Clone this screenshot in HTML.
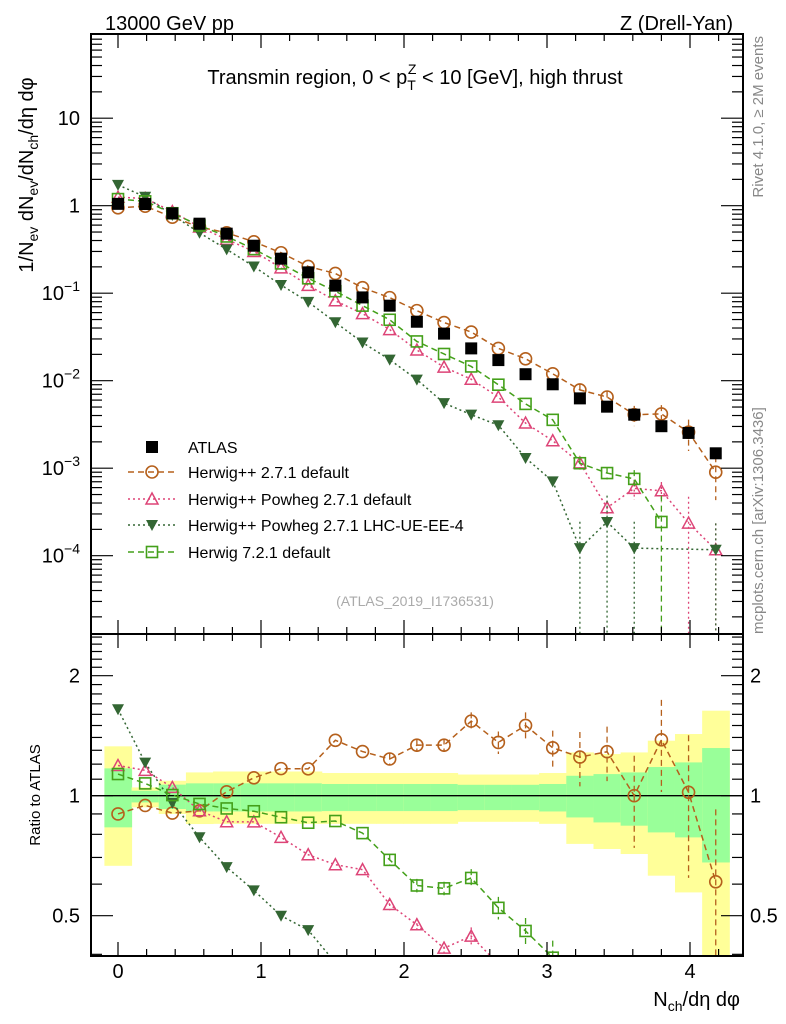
<!DOCTYPE html>
<html><head><meta charset="utf-8"><style>
html,body{margin:0;padding:0;background:#fff;overflow:hidden;width:786px;height:1024px;}
svg{font-family:"Liberation Sans",sans-serif;display:block;}
</style></head><body>
<svg id="c" width="786" height="1024" xmlns="http://www.w3.org/2000/svg">
<defs>
<clipPath id="cm"><rect x="91" y="34" width="652" height="600"/></clipPath>
<clipPath id="cr"><rect x="91" y="634" width="652" height="322"/></clipPath>
</defs>
<g id="bands" clip-path="url(#cr)"></g>
<g id="marks"></g>
<rect x="91" y="34" width="652" height="600" fill="none" stroke="#000" stroke-width="2"/>
<rect x="91" y="634" width="652" height="322" fill="none" stroke="#000" stroke-width="2"/>
<g id="ticks"></g>
<text x="105" y="30" font-size="20">13000 GeV pp</text>
<text x="733" y="30" font-size="20" text-anchor="end">Z (Drell-Yan)</text>
<text x="415" y="84" font-size="20" text-anchor="middle">Transmin region, 0 &lt; p<tspan font-size="14" dy="6">T</tspan><tspan font-size="14" dx="-8" dy="-16">Z</tspan><tspan dy="10"> &lt; 10 [GeV], high thrust</tspan></text>
<text transform="translate(33,175) rotate(-90)" font-size="20" text-anchor="middle">1/N<tspan font-size="14" dy="5">ev</tspan><tspan dy="-5"> dN</tspan><tspan font-size="14" dy="5">ev</tspan><tspan dy="-5">/dN</tspan><tspan font-size="14" dy="5">ch</tspan><tspan dy="-5">/dη dφ</tspan></text>
<text transform="translate(40,795) rotate(-90)" font-size="15" text-anchor="middle">Ratio to ATLAS</text>
<text x="740" y="1006" font-size="20" text-anchor="end">N<tspan font-size="14" dy="5">ch</tspan><tspan dy="-5">/dη dφ</tspan></text>
<text transform="translate(763,36) rotate(-90)" font-size="15" fill="#888" text-anchor="end">Rivet 4.1.0, ≥ 2M events</text>
<text transform="translate(763,634) rotate(-90)" font-size="15" fill="#888">mcplots.cern.ch [arXiv:1306.3436]</text>
<text x="415" y="606" font-size="14" fill="#aaa" text-anchor="middle">(ATLAS_2019_I1736531)</text>
<g id="legend"></g>
</svg>
<script>
const xs=[0,0.19,0.38,0.57,0.76,0.95,1.14,1.33,1.52,1.71,1.90,2.09,2.28,2.47,2.66,2.85,3.04,3.23,3.42,3.61,3.80,3.99,4.18];
const atlas=[1.05,1.045,0.817,0.623,0.479,0.349,0.248,0.173,0.122,0.0895,0.072,0.0472,0.0345,0.0234,0.0172,0.01186,0.0091,0.00628,0.00505,0.00409,0.00302,0.00253,0.00148];
const hpp=[0.945,0.988,0.739,0.571,0.49,0.387,0.29,0.202,0.168,0.1155,0.089,0.0632,0.0462,0.036,0.0234,0.0178,0.012,0.00785,0.00651,0.00409,0.00417,0.00258,0.0009];
const powheg=[1.25,1.21,0.857,0.571,0.412,0.300,0.195,0.123,0.0819,0.0584,0.0384,0.0224,0.0143,0.0104,0.0065,0.00328,0.00206,0.00115,0.000353,0.000588,0.000552,0.000236,0.000117];
const ueee4=[1.73,1.265,0.784,0.49,0.317,0.202,0.124,0.0796,0.0465,0.0273,0.0174,0.0103,0.00555,0.00409,0.0031,0.00131,0.000708,0.000122,0.000243,0.000122,null,null,0.000117];
const h7=[1.19,1.122,0.82,0.594,0.445,0.319,0.219,0.148,0.1054,0.0721,0.0497,0.0281,0.0202,0.01455,0.009,0.00543,0.00357,0.00114,0.00088,0.000755,0.000243,null,null];
const relErr=[0.01,0.01,0.01,0.01,0.01,0.01,0.015,0.015,0.02,0.02,0.025,0.03,0.03,0.04,0.05,0.06,0.08,0.12,0.12,0.2,0.2,0.3,0.4];
const bandYelUp=[1.33,1.049,1.09,1.144,1.15,1.15,1.15,1.15,1.14,1.14,1.14,1.14,1.14,1.13,1.13,1.13,1.14,1.284,1.272,1.284,1.374,1.428,1.634];
const bandYelDn=[0.667,0.935,0.9,0.849,0.85,0.85,0.85,0.85,0.85,0.85,0.85,0.85,0.85,0.86,0.86,0.86,0.85,0.757,0.735,0.714,0.63,0.572,0.3];
const bandGrnUp=[1.171,1.029,1.066,1.074,1.074,1.074,1.074,1.074,1.07,1.07,1.07,1.07,1.07,1.065,1.065,1.065,1.07,1.122,1.133,1.144,1.18,1.212,1.317];
const bandGrnDn=[0.833,0.962,0.926,0.913,0.913,0.913,0.913,0.913,0.915,0.915,0.915,0.915,0.915,0.92,0.92,0.92,0.913,0.882,0.857,0.841,0.809,0.786,0.68];
const xTicks=[0,1,2,3,4];
const yTickExp=[1,0,-1,-2,-3,-4];
const rTicks=[0.5,1,2];

const NS='http://www.w3.org/2000/svg';
const X=v=>118+143*v;
const YM=v=>205.7-87.5*Math.log10(v);
const YR=r=>795.7-120*Math.log2(r);
const BW=0.095;
const RB=958, MB=636;
function mk(tag,at,parent){const e=document.createElementNS(NS,tag);for(const k in at)e.setAttribute(k,at[k]);parent.appendChild(e);return e;}
const marks=document.getElementById('marks'),bands=document.getElementById('bands'),ticks=document.getElementById('ticks'),legend=document.getElementById('legend');

xs.forEach((x,i)=>{
 let r=mk('rect',{x:X(x-BW),y:YR(bandYelUp[i]),width:X(x+BW)-X(x-BW)+0.5,height:Math.min(YR(bandYelDn[i]),RB)-YR(bandYelUp[i]),fill:'#ffff99'},bands);
 
 
 let g=mk('rect',{x:X(x-BW),y:YR(bandGrnUp[i]),width:X(x+BW)-X(x-BW)+0.5,height:YR(bandGrnDn[i])-YR(bandGrnUp[i]),fill:'#99ff99'},bands);
 
 
});
mk('line',{x1:91,x2:743,y1:YR(1),y2:YR(1),stroke:'#000','stroke-width':1.3},marks);

const series=[
 {name:'herwigpp-271',vals:hpp,col:'#b5601c',dash:'6,4',m:'circle',lab:'Herwig++ 2.7.1 default'},
 {name:'powheg-271',vals:powheg,col:'#dd4477',dash:'2,3',m:'tri',lab:'Herwig++ Powheg 2.7.1 default'},
 {name:'powheg-ueee4',vals:ueee4,col:'#336633',dash:'2,3',m:'dtri',lab:'Herwig++ Powheg 2.7.1 LHC-UE-EE-4'},
 {name:'herwig-721',vals:h7,col:'#44a01a',dash:'6,4',m:'square',lab:'Herwig 7.2.1 default'}
];
function marker(type,cx,cy,col,parent,name){
 let e;
 if(type==='circle')e=mk('circle',{cx,cy,r:6,fill:'none',stroke:col,'stroke-width':1.6},parent);
 else if(type==='square')e=mk('rect',{x:cx-5.5,y:cy-5.5,width:11,height:11,fill:'none',stroke:col,'stroke-width':1.6},parent);
 else if(type==='tri')e=mk('polygon',{points:`${cx},${cy-6} ${cx-6},${cy+5} ${cx+6},${cy+5}`,fill:'none',stroke:col,'stroke-width':1.5},parent);
 else if(type==='dtri')e=mk('polygon',{points:`${cx-6},${cy-5} ${cx+6},${cy-5} ${cx},${cy+6}`,fill:col},parent);
 else e=mk('rect',{x:cx-6,y:cy-6,width:12,height:12,fill:'#000'},parent);
 
 
 return e;
}
// clip polyline segments to a bottom limit
function cutPath(pts,bottom){
 let d='',pen=false;
 for(let k=0;k<pts.length;k++){
  const [x,y]=pts[k];
  if(k==0){if(y<=bottom){d+=`M${x},${y}`;pen=true;}continue;}
  const [px,py]=pts[k-1];
  if(py<=bottom&&y<=bottom){d+=(pen?'L':'M')+`${x},${y}`;pen=true;}
  else if(py<=bottom&&y>bottom){const t=(bottom-py)/(y-py);d+=(pen?'L':'M')+`${px+t*(x-px)},${bottom}`;pen=false;}
  else if(py>bottom&&y<=bottom){const t=(bottom-py)/(y-py);d+=`M${px+t*(x-px)},${bottom}L${x},${y}`;pen=true;}
 }
 return d||'M0,0';
}
const gm=mk('g',{'clip-path':'url(#cm)'},marks), gr=mk('g',{'clip-path':'url(#cr)'},marks);
series.forEach(s=>{
 let pm=[],pr=[];
 s.vals.forEach((v,i)=>{if(v==null)return;pm.push([X(xs[i]),YM(v)]);pr.push([X(xs[i]),YR(v/atlas[i])]);});
 let l1=mk('path',{d:cutPath(pm,MB),fill:'none',stroke:s.col,'stroke-width':1.5,'stroke-dasharray':s.dash},gm);
 
 
 let l2=mk('path',{d:cutPath(pr,RB),fill:'none',stroke:s.col,'stroke-width':1.5,'stroke-dasharray':s.dash},gr);
 
 
 s.vals.forEach((v,i)=>{
  if(v==null)return;
  const e=relErr[i]*1.3;
  const cx=X(xs[i]);
  const toZero=v<3e-4;
  const top=toZero?YM(v*2):YM(v*(1+e));
  const mainBot=toZero?MB:Math.min(MB,YM(v*Math.max(1-e,0.01)));
  const rr=v/atlas[i];
  const ry=YR(rr);
  if(ry<RB+8){
   [[gm,top,mainBot],[gr,YR(rr*(1+e)),Math.min(RB,YR(rr*Math.max(1-e,0.01)))]].forEach(([g,a,b])=>{
    if(Math.abs(b-a)>10){let eb=mk('line',{x1:cx,x2:cx,y1:a,y2:b,stroke:s.col,'stroke-width':1.3,'stroke-dasharray':s.dash},g);
    
    }
   });
   marker(s.m,cx,ry,s.col,gr,s.name+'-ratio-point');
  } else if(Math.abs(mainBot-top)>10){
   let eb=mk('line',{x1:cx,x2:cx,y1:top,y2:mainBot,stroke:s.col,'stroke-width':1.3,'stroke-dasharray':s.dash},gm);
   
   
  }
  marker(s.m,cx,YM(v),s.col,gm,s.name+'-point');
 });
});
atlas.forEach((v,i)=>marker('fsq',X(xs[i]),YM(v),'#000',gm,'atlas-point'));

function tl(x1,y1,x2,y2){mk('line',{x1,y1,x2,y2,stroke:'#000','stroke-width':1.2},ticks);}
for(let k=-0.8;k<=4.4;k+=0.2){const v=Math.round(k*10)/10;const x=X(v);if(x<92||x>742)continue;
 const maj=Math.abs(v-Math.round(v))<1e-6;const L=maj?14:7;
 tl(x,34,x,34+L);tl(x,634,x,634-L);tl(x,634,x,634+L);tl(x,956,x,956-L);}
xTicks.forEach(v=>{let t=mk('text',{x:X(v),y:978,'font-size':20,'text-anchor':'middle'},ticks);t.textContent=v;
 
 });
for(let e=-5;e<=1;e++)for(let m=1;m<10;m++){const y=YM(m*Math.pow(10,e));if(y<35||y>633)continue;const L=m==1?22:11;tl(91,y,91+L,y);tl(743,y,743-L,y);}
yTickExp.forEach(e=>{let t=mk('text',{x:80,y:YM(Math.pow(10,e))+7,'font-size':20,'text-anchor':'end'},ticks);
 if(e==1)t.textContent='10';else if(e==0)t.textContent='1';else{t.textContent='10';let s=mk('tspan',{'font-size':14,dy:-9},t);s.textContent='−'+(-e);}
 
 });
[0.4,0.5,0.6,0.7,0.8,0.9,1,1.1,1.2,1.3,1.4,1.5,1.6,1.7,1.8,1.9,2,2.1,2.2,2.3,2.4,2.5].forEach(r=>{const y=YR(r);if(y<635||y>955)return;const L=(r==0.5||r==1||r==2)?22:11;tl(91,y,91+L,y);tl(743,y,743-L,y);});
rTicks.forEach(r=>{[80,750].forEach((x,j)=>{let t=mk('text',{x,y:YR(r)+7,'font-size':20,'text-anchor':j?'start':'end'},ticks);t.textContent=r;
 
 });});

const ly=[447,472,499,525,552];
marker('fsq',152,ly[0],'#000',legend,'legend-atlas-marker');
let lt=mk('text',{x:188,y:ly[0]+6,'font-size':16},legend);lt.textContent='ATLAS';


series.forEach((s,i)=>{const y=ly[i+1];
 let l=mk('line',{x1:128,x2:178,y1:y,y2:y,stroke:s.col,'stroke-width':1.5,'stroke-dasharray':s.dash},legend);
 
 
 marker(s.m,152,y,s.col,legend,'legend-marker');
 let t=mk('text',{x:188,y:y+6,'font-size':16},legend);t.textContent=s.lab;
 
 
});
</script>
</body></html>
